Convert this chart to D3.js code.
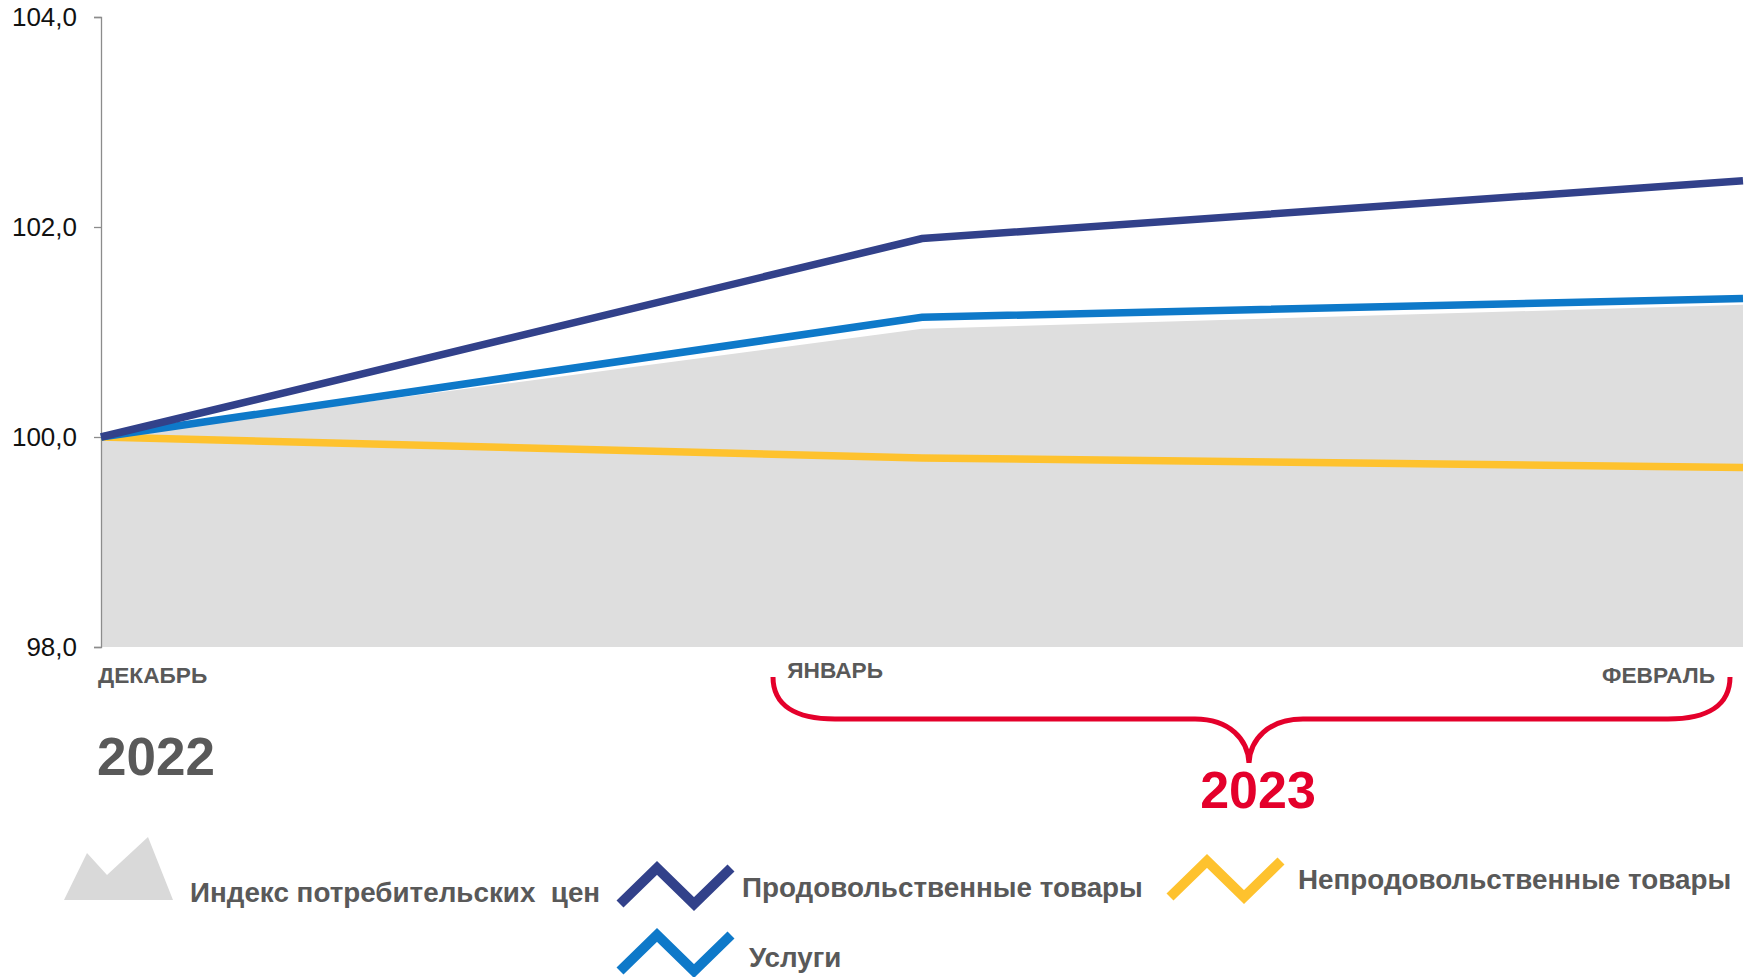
<!DOCTYPE html>
<html>
<head>
<meta charset="utf-8">
<script src="https://cdn.jsdelivr.net/npm/d3@7"></script>
<style>
  body { margin: 0; background: #fff; }
  svg { display: block; font-family: "Liberation Sans", Arial, sans-serif; }
</style>
</head>
<body>
<svg id="chart" width="1757" height="977"></svg>
<script>
// months on the category axis
const months = ["ДЕКАБРЬ", "ЯНВАРЬ", "ФЕВРАЛЬ"];
// index values, December 2022 = 100
const cpi = [100.0, 101.03, 101.26];
const food = [100.0, 101.89, 102.44];
const nonFood = [100.0, 99.80, 99.71];
const services = [100.0, 101.14, 101.32];
const yTicks = [98, 100, 102, 104];

const seriesNames = ["Продовольственные товары", "Непродовольственные товары", "Услуги"];
const seriesColors = ["#32418a", "#0e79c9", "#fec22e"];

document.addEventListener("DOMContentLoaded", function() {
    const svg = d3.select("#chart");
    const left = 101, right = 1743, top = 17, bottom = 647;

    const x = d3.scalePoint().domain(months).range([left, right]);
    const y = d3.scaleLinear().domain([98, 104]).range([bottom, top]);

    // grey CPI area
    const area = d3.area()
        .x((d, i) => x(months[i]))
        .y0(y(98))
        .y1(d => y(d));
    svg.append("path")
        .datum(cpi)
        .attr("d", area)
        .attr("fill", "#dedede");

    // y axis
    const yAxis = d3.axisLeft(y)
        .tickValues(yTicks)
        .tickSize(7)
        .tickFormat(d => d3.format(".1f")(d).replace(".", ","));
    const ax = svg.append("g")
        .attr("transform", `translate(${left},0)`)
        .call(yAxis);
    ax.select(".domain").attr("stroke", "#8c8c8c").attr("stroke-width", 1.3);
    ax.selectAll(".tick line").attr("stroke", "#8c8c8c").attr("stroke-width", 1.3);
    ax.selectAll(".tick text")
        .attr("x", -24)
        .attr("font-size", 26)
        .attr("fill", "#111")
        .attr("font-family", "'Liberation Sans', Arial, sans-serif");

    // lines
    const line = d3.line().x((d, i) => x(months[i])).y(d => y(d));
    const lines = [
        { values: nonFood, color: seriesColors[2] },
        { values: services, color: seriesColors[1] },
        { values: food, color: seriesColors[0] }
    ];
    svg.selectAll("path.series")
        .data(lines)
        .enter()
        .append("path")
        .attr("class", "series")
        .attr("d", d => line(d.values))
        .attr("fill", "none")
        .attr("stroke", d => d.color)
        .attr("stroke-width", 7.5);

    // month labels
    svg.selectAll("text.month")
        .data(months)
        .enter()
        .append("text")
        .attr("class", "month")
        .attr("x", (d, i) => i === 0 ? x(d) - 3 : x(d) - (i === 1 ? 39 : 28))
        .attr("y", (d, i) => i === 1 ? 678 : 683)
        .attr("text-anchor", (d, i) => i === 0 ? "start" : "end")
        .attr("font-size", 22.7)
        .attr("font-weight", "bold")
        .attr("fill", "#595959")
        .text(d => d);

    // years
    svg.append("text")
        .attr("x", 97).attr("y", 775)
        .attr("font-size", 53).attr("font-weight", "bold")
        .attr("fill", "#595959")
        .text("2022");

    // red brace under Jan–Feb
    const brace = d3.path();
    brace.moveTo(773, 677);
    brace.bezierCurveTo(773, 705, 795, 719, 835, 719);
    brace.lineTo(1195, 719);
    brace.bezierCurveTo(1230, 719, 1248, 740, 1249, 763);
    brace.bezierCurveTo(1250, 740, 1268, 719, 1303, 719);
    brace.lineTo(1668, 719);
    brace.bezierCurveTo(1708, 719, 1730, 705, 1730, 677);
    svg.append("path")
        .attr("d", brace.toString())
        .attr("fill", "none")
        .attr("stroke", "#e4002b")
        .attr("stroke-width", 5);

    svg.append("text")
        .attr("x", 1258).attr("y", 808)
        .attr("text-anchor", "middle")
        .attr("font-size", 52).attr("font-weight", "bold")
        .attr("fill", "#e4002b")
        .text("2023");

    // legend
    const legend = svg.append("g").attr("font-size", 27.8).attr("font-weight", "bold").attr("fill", "#595959");

    // CPI mountain icon
    legend.append("path")
        .attr("d", "M64,900 L87,853 L107,875 L148,837 L173,900 Z")
        .attr("fill", "#d9d9d9");
    legend.append("text").attr("x", 190).attr("y", 902)
        .style("white-space", "pre")
        .text("Индекс потребительских  цен");

    const zig = [[0, 36], [37, 0], [74, 36], [111, 0]];
    const legendItems = [
        { name: seriesNames[0], color: seriesColors[0], ix: 620, iy: 868, tx: 742, ty: 897 },
        { name: seriesNames[1], color: seriesColors[2], ix: 1170, iy: 861, tx: 1298, ty: 889 },
        { name: seriesNames[2], color: seriesColors[1], ix: 620, iy: 935, tx: 749, ty: 967 }
    ];
    const items = legend.selectAll("g.item")
        .data(legendItems)
        .enter()
        .append("g")
        .attr("class", "item");
    items.append("path")
        .attr("d", d => d3.line()(zig.map(p => [p[0] + d.ix, p[1] + d.iy])))
        .attr("fill", "none")
        .attr("stroke", d => d.color)
        .attr("stroke-width", 10);
    items.append("text")
        .attr("x", d => d.tx)
        .attr("y", d => d.ty)
        .text(d => d.name);
});
</script>
</body>
</html>
